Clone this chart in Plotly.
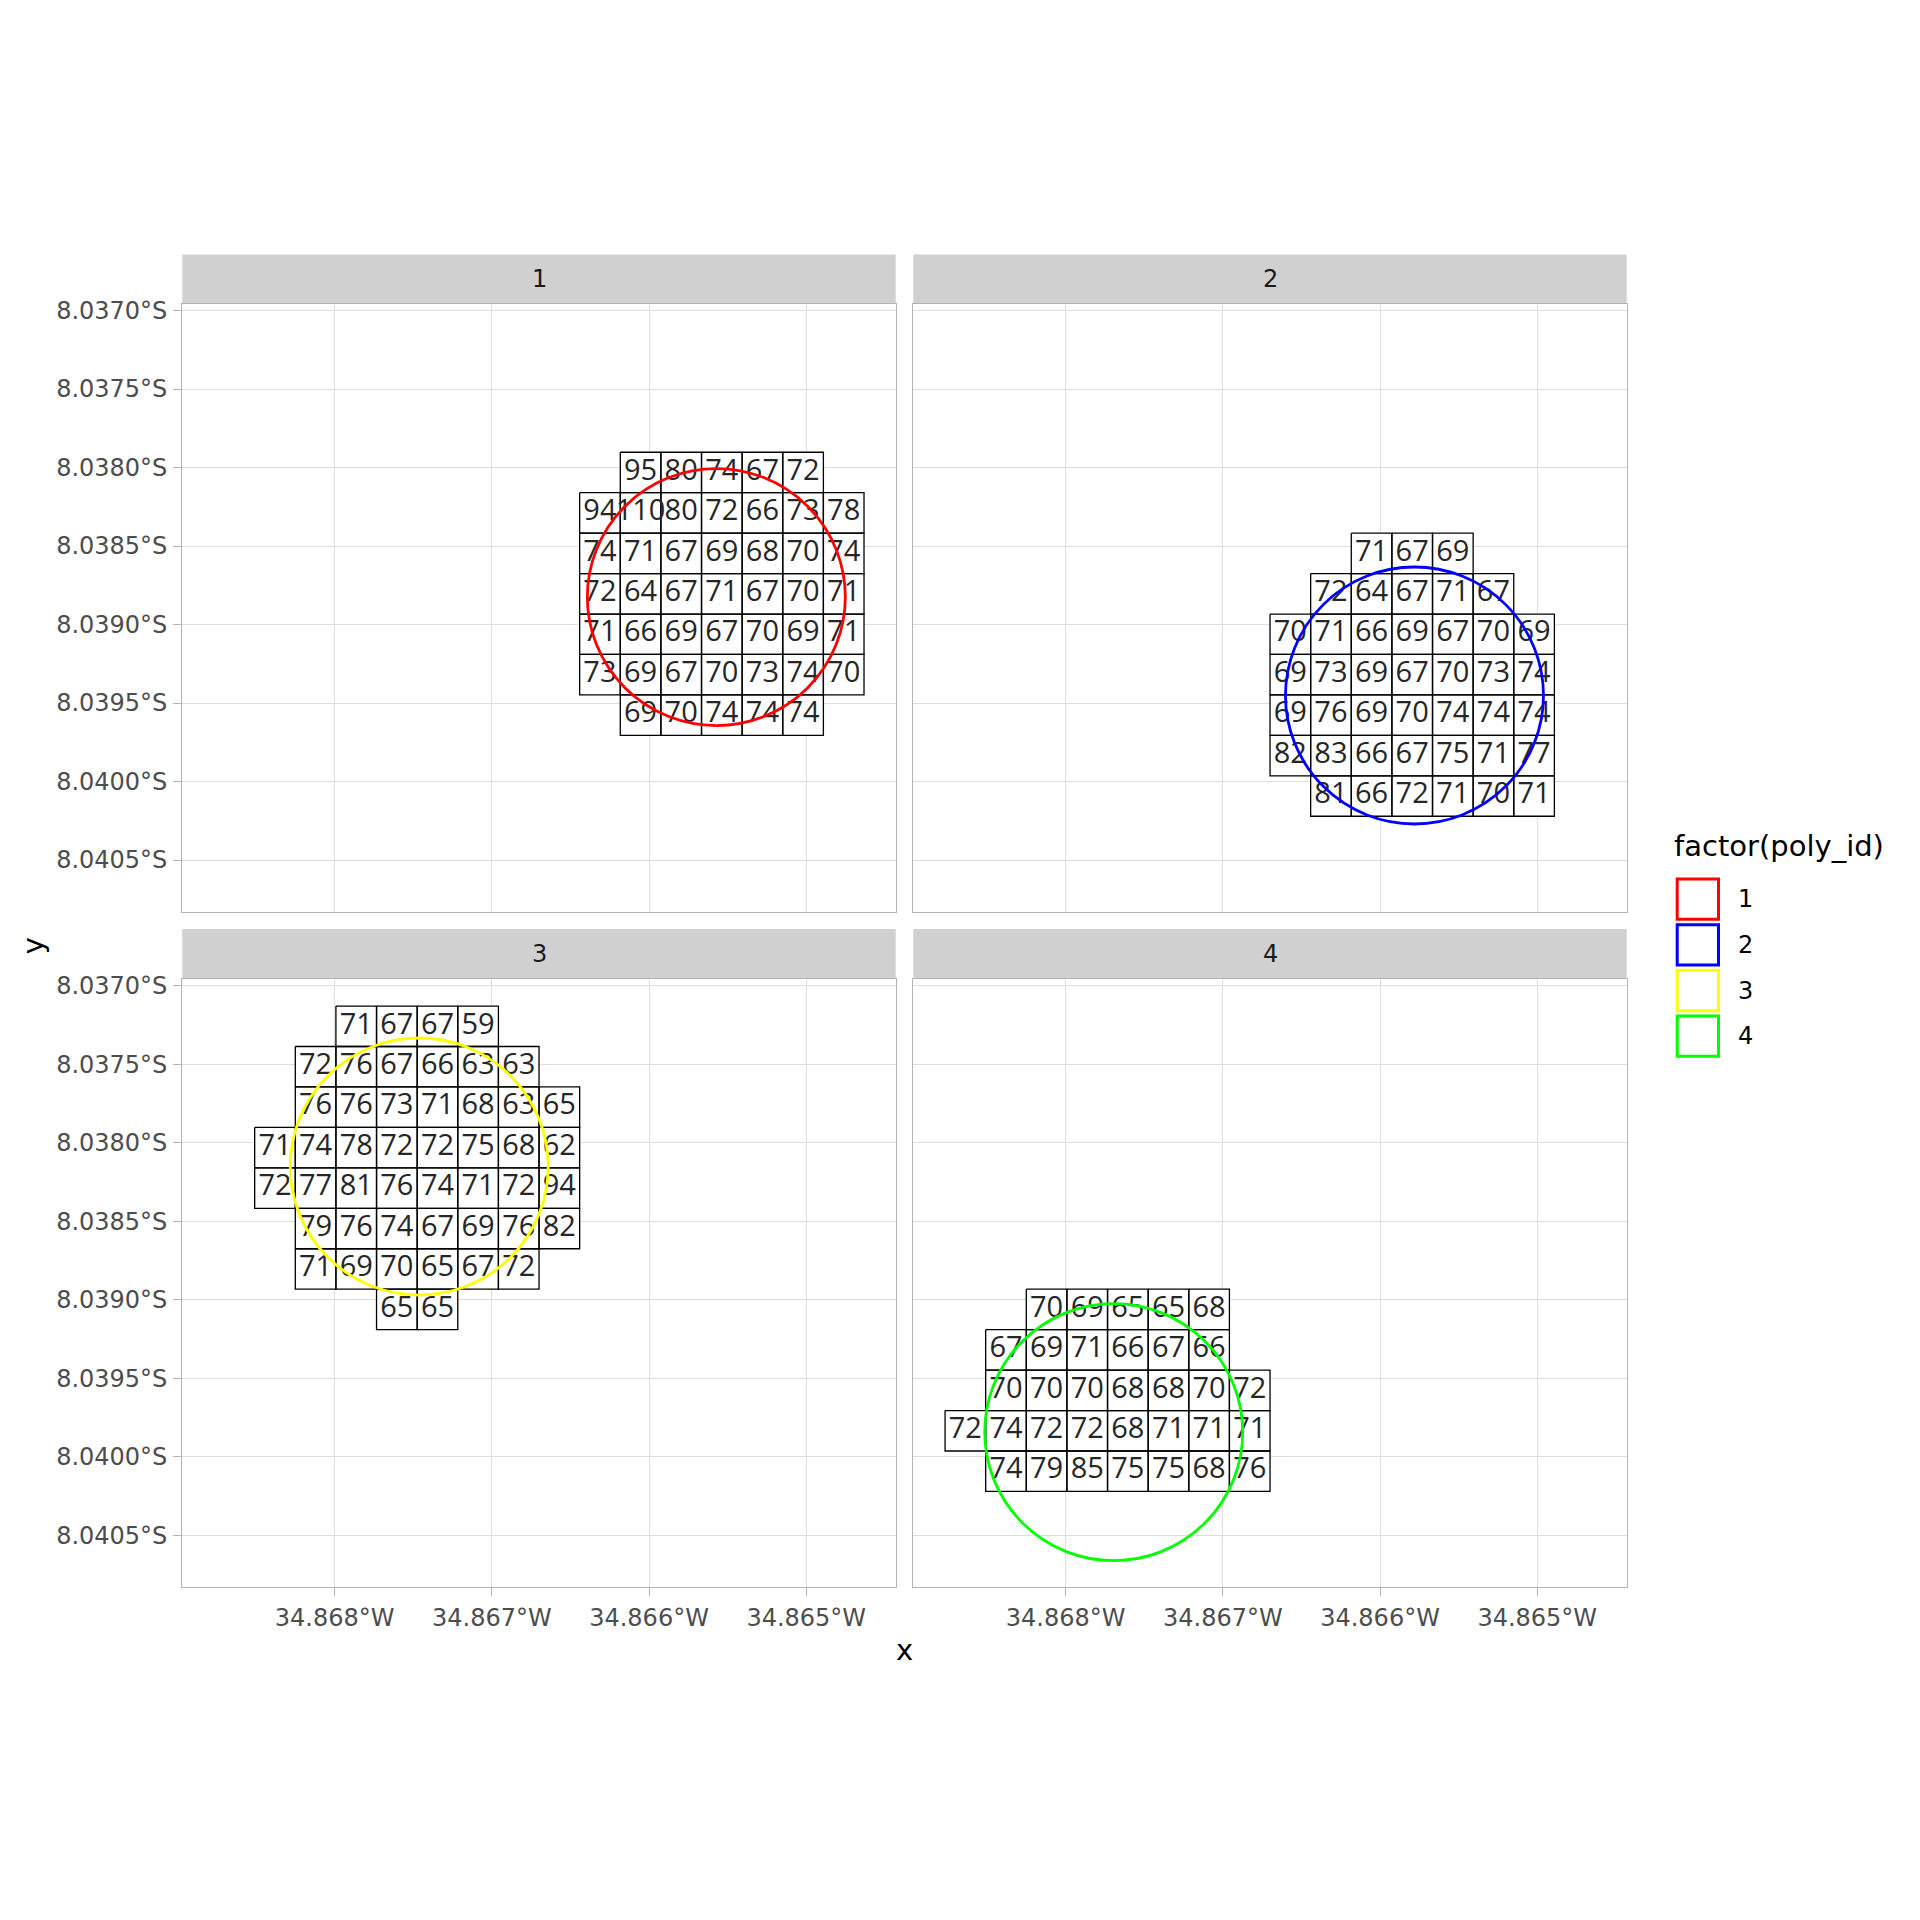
import plotly.graph_objects as go

# ---------------- data ----------------
x_range = [-34.868969, -34.864431]
y_range = [-8.040831, -8.036956]

x_tick_vals = [-34.868, -34.867, -34.866, -34.865]
x_tick_text = ["34.868°W", "34.867°W", "34.866°W", "34.865°W"]
y_tick_vals = [-8.0370, -8.0375, -8.0380, -8.0385, -8.0390, -8.0395, -8.0400, -8.0405]
y_tick_text = ["8.0370°S", "8.0375°S", "8.0380°S", "8.0385°S",
               "8.0390°S", "8.0395°S", "8.0400°S", "8.0405°S"]

# raster grid (shared by all panels)
grid_lon0 = -34.868767   # left edge of grid column 0
grid_lat0 = -8.037130    # top edge of grid row 0
cell_w = 0.0002584
cell_h = 0.0002576

poly_ids = ["1", "2", "3", "4"]
poly_colors = ["#FF0000", "#0000FF", "#FFFF00", "#00FF00"]
circle_lon = [-34.865572, -34.865781, -34.867462, -34.867694]
circle_lat = [-8.038825, -8.039452, -8.038152, -8.039843]
circle_r_lon = 0.0008206
circle_r_lat = 0.0008185

# panel 1
p1_col0, p1_row0 = 9, 3
p1_starts = [1, 0, 0, 0, 0, 0, 1]
p1_values = [
    [95, 80, 74, 67, 72],
    [94, 110, 80, 72, 66, 73, 78],
    [74, 71, 67, 69, 68, 70, 74],
    [72, 64, 67, 71, 67, 70, 71],
    [71, 66, 69, 67, 70, 69, 71],
    [73, 69, 67, 70, 73, 74, 70],
    [69, 70, 74, 74, 74],
]
# panel 2
p2_col0, p2_row0 = 8, 5
p2_starts = [2, 1, 0, 0, 0, 0, 1]
p2_values = [
    [71, 67, 69],
    [72, 64, 67, 71, 67],
    [70, 71, 66, 69, 67, 70, 69],
    [69, 73, 69, 67, 70, 73, 74],
    [69, 76, 69, 70, 74, 74, 74],
    [82, 83, 66, 67, 75, 71, 77],
    [81, 66, 72, 71, 70, 71],
]
# panel 3
p3_col0, p3_row0 = 1, 0
p3_starts = [2, 1, 1, 0, 0, 1, 1, 3]
p3_values = [
    [71, 67, 67, 59],
    [72, 76, 67, 66, 63, 63],
    [76, 76, 73, 71, 68, 63, 65],
    [71, 74, 78, 72, 72, 75, 68, 62],
    [72, 77, 81, 76, 74, 71, 72, 94],
    [79, 76, 74, 67, 69, 76, 82],
    [71, 69, 70, 65, 67, 72],
    [65, 65],
]
# panel 4
p4_col0, p4_row0 = 0, 7
p4_starts = [2, 1, 1, 0, 1]
p4_values = [
    [70, 69, 65, 65, 68],
    [67, 69, 71, 66, 67, 66],
    [70, 70, 70, 68, 68, 70, 72],
    [72, 74, 72, 72, 68, 71, 71, 71],
    [74, 79, 85, 75, 75, 68, 76],
]

panels = [
    (p1_col0, p1_row0, p1_starts, p1_values),
    (p2_col0, p2_row0, p2_starts, p2_values),
    (p3_col0, p3_row0, p3_starts, p3_values),
    (p4_col0, p4_row0, p4_starts, p4_values),
]

# ---------------- layout geometry (pixels) ----------------
W = H = 1920
Y_SHIFT = 4.0
col_px = [(182.3, 895.7), (913.3, 1626.7)]
row_px = [(301.7, 912.3), (979.3, 1590.0)]
strip_px = [(252.3, 301.7), (929.3, 979.3)]


def px(v):
    return v / W


def py(v):
    return 1 - (v - Y_SHIFT) / H


TICK_FONT = dict(family="DejaVu Sans", size=24, color="#4D4D4D")
GRID = "#DEDEDE"
BORDER = "#B3B3B3"

fig = go.Figure()
layout = dict(
    width=W, height=H, autosize=False,
    margin=dict(l=0, r=0, t=0, b=0),
    paper_bgcolor="white", plot_bgcolor="white",
    showlegend=False,
)
shapes = []
annotations = []

for k, (col0, row0, starts, values) in enumerate(panels):
    idx = k + 1
    prow, pcol = divmod(k, 2)
    xa = "x" if idx == 1 else f"x{idx}"
    ya = "y" if idx == 1 else f"y{idx}"
    xkey = "xaxis" if idx == 1 else f"xaxis{idx}"
    ykey = "yaxis" if idx == 1 else f"yaxis{idx}"

    show_x = prow == 1
    show_y = pcol == 0
    layout[xkey] = dict(
        domain=[px(col_px[pcol][0]), px(col_px[pcol][1])],
        anchor=ya, range=x_range, fixedrange=True,
        tickvals=x_tick_vals, ticktext=x_tick_text,
        showticklabels=show_x, ticks="outside" if show_x else "",
        ticklen=8, tickwidth=1.3, tickcolor=BORDER, tickfont=TICK_FONT,
        ticklabelstandoff=1,
        showgrid=True, gridcolor=GRID, gridwidth=1.3, zeroline=False,
        showline=True, linecolor=BORDER, linewidth=1.3, mirror=True,
    )
    layout[ykey] = dict(
        domain=[py(row_px[prow][1]), py(row_px[prow][0])],
        anchor=xa, range=y_range, fixedrange=True,
        tickvals=y_tick_vals, ticktext=y_tick_text,
        showticklabels=show_y, ticks="outside" if show_y else "",
        ticklen=8, tickwidth=1.3, tickcolor=BORDER, tickfont=TICK_FONT,
        ticklabelstandoff=1,
        showgrid=True, gridcolor=GRID, gridwidth=1.3, zeroline=False,
        showline=True, linecolor=BORDER, linewidth=1.3, mirror=True,
    )

    # cells
    cx, cy, tx, ty, tt = [], [], [], [], []
    for i, (s, row_vals) in enumerate(zip(starts, values)):
        r = row0 + i
        for j, v in enumerate(row_vals):
            c = col0 + s + j
            x0 = grid_lon0 + c * cell_w
            x1 = x0 + cell_w
            y0 = grid_lat0 - r * cell_h
            y1 = y0 - cell_h
            cx += [x0, x1, x1, x0, x0, None]
            cy += [y0, y0, y1, y1, y0, None]
            tx.append((x0 + x1) / 2)
            ty.append((y0 + y1) / 2)
            tt.append(str(v))
    fig.add_trace(go.Scatter(
        x=cx, y=cy, xaxis=xa, yaxis=ya, mode="lines", fill="toself",
        fillcolor="white", line=dict(color="black", width=1.3),
        hoverinfo="skip",
    ))
    fig.add_trace(go.Scatter(
        x=tx, y=ty, xaxis=xa, yaxis=ya, mode="text", text=tt,
        textposition="middle center",
        textfont=dict(family="Open Sans", size=29, color="#262626"),
        hoverinfo="skip",
    ))

    # circle (buffer polygon)
    shapes.append(dict(
        type="circle", xref=xa, yref=ya, layer="above",
        x0=circle_lon[k] - circle_r_lon, x1=circle_lon[k] + circle_r_lon,
        y0=circle_lat[k] - circle_r_lat, y1=circle_lat[k] + circle_r_lat,
        line=dict(color=poly_colors[k], width=2.8),
    ))

    # strip
    sx0, sx1 = col_px[pcol]
    sy0, sy1 = strip_px[prow]
    shapes.append(dict(
        type="rect", xref="paper", yref="paper", layer="below",
        x0=px(sx0), x1=px(sx1), y0=py(sy1), y1=py(sy0),
        fillcolor="#D0D0D0", line=dict(width=0),
    ))
    annotations.append(dict(
        xref="paper", yref="paper", x=px((sx0 + sx1) / 2), y=py((sy0 + sy1) / 2),
        text=poly_ids[k], showarrow=False, xanchor="center", yanchor="middle",
        font=dict(family="DejaVu Sans", size=24, color="#1A1A1A"),
    ))

# axis titles
annotations.append(dict(
    xref="paper", yref="paper", x=px(904), y=py(1653), text="x",
    showarrow=False, xanchor="center", yanchor="middle",
    font=dict(family="DejaVu Sans", size=29, color="black"),
))
annotations.append(dict(
    xref="paper", yref="paper", x=px(33), y=py(946.7), text="y", textangle=-90,
    showarrow=False, xanchor="center", yanchor="middle",
    font=dict(family="DejaVu Sans", size=29, color="black"),
))

# legend (drawn manually, ggplot style)
annotations.append(dict(
    xref="paper", yref="paper", x=px(1672), y=py(846), text="factor(poly_id)",
    showarrow=False, xanchor="left", yanchor="middle",
    font=dict(family="DejaVu Sans", size=29, color="black"),
))
for i, (pid, colr) in enumerate(zip(poly_ids, poly_colors)):
    top = 879.2 + i * 45.8
    shapes.append(dict(
        type="rect", xref="paper", yref="paper", layer="above",
        x0=px(1677.2), x1=px(1718.5), y0=py(top + 40.5), y1=py(top),
        fillcolor="white", line=dict(color=colr, width=3),
    ))
    annotations.append(dict(
        xref="paper", yref="paper", x=px(1736), y=py(top + 20.3), text=pid,
        showarrow=False, xanchor="left", yanchor="middle",
        font=dict(family="DejaVu Sans", size=24, color="black"),
    ))

layout["shapes"] = shapes
layout["annotations"] = annotations
fig.update_layout(**layout)
fig.write_html(
    "out.html",
    config={"displayModeBar": False},
    post_script="document.body.style.margin='0';document.body.style.padding='0';",
)
